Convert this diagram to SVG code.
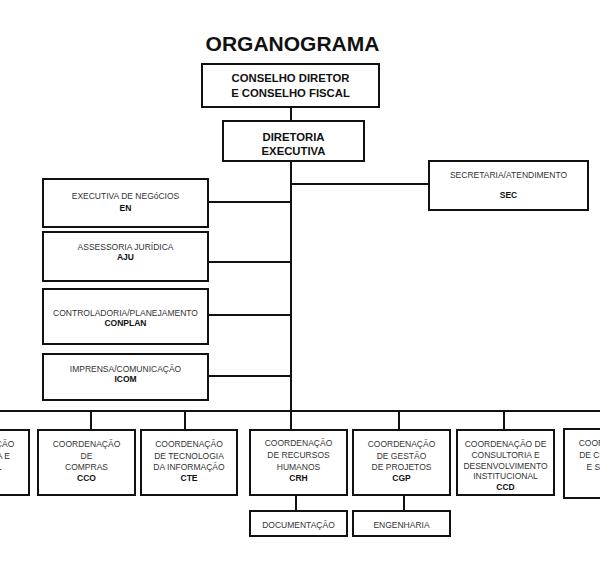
<svg xmlns="http://www.w3.org/2000/svg" width="600" height="566" viewBox="0 0 600 566">
<style>
.box{fill:#fff;stroke:#111;stroke-width:2}
.ln{stroke:#111;stroke-width:2;fill:none}
text{font-family:"Liberation Sans",Arial,sans-serif;text-anchor:middle}
.t{font-size:8.5px;fill:#333}
.b{font-size:8.5px;font-weight:bold;fill:#111}
.h{font-size:11.3px;font-weight:bold;fill:#111}
.title{font-size:21px;font-weight:bold;fill:#111}
</style>
<rect width="600" height="566" fill="#fff"/>
<text class="title" x="292.5" y="51">ORGANOGRAMA</text>
<g id="connectors">
<line class="ln" x1="291" y1="107" x2="291" y2="121"/>
<line class="ln" x1="291" y1="161" x2="291" y2="430"/>
<line class="ln" x1="291" y1="184" x2="429" y2="184"/>
<line class="ln" x1="208" y1="202" x2="291" y2="202"/>
<line class="ln" x1="208" y1="262" x2="291" y2="262"/>
<line class="ln" x1="208" y1="315" x2="291" y2="315"/>
<line class="ln" x1="208" y1="376" x2="291" y2="376"/>
<line class="ln" x1="0" y1="411" x2="600" y2="411"/>
<line class="ln" x1="91" y1="411" x2="91" y2="430"/>
<line class="ln" x1="185" y1="411" x2="185" y2="430"/>
<line class="ln" x1="399" y1="411" x2="399" y2="430"/>
<line class="ln" x1="504" y1="411" x2="504" y2="430"/>
<line class="ln" x1="296" y1="495" x2="296" y2="511"/>
<line class="ln" x1="404" y1="495" x2="404" y2="511"/>
</g>
<g id="conselho">
<rect class="box" x="202" y="64" width="177" height="43"/>
<text class="h" x="290.5" y="82">CONSELHO DIRETOR</text>
<text class="h" x="290.5" y="97">E CONSELHO FISCAL</text>
</g>
<g id="diretoria">
<rect class="box" x="223" y="121" width="141" height="40"/>
<text class="h" x="293.5" y="141">DIRETORIA</text>
<text class="h" x="293.5" y="155">EXECUTIVA</text>
</g>
<g id="sec">
<rect class="box" x="429" y="161" width="159" height="49"/>
<text class="t" x="508.5" y="178">SECRETARIA/ATENDIMENTO</text>
<text class="b" x="508.5" y="198">SEC</text>
</g>
<g id="en">
<rect class="box" x="43" y="179" width="165" height="48"/>
<text class="t" x="125.5" y="199">EXECUTIVA DE NEGóCIOS</text>
<text class="b" x="125.5" y="211">EN</text>
</g>
<g id="aju">
<rect class="box" x="43" y="232" width="165" height="49"/>
<text class="t" x="125.5" y="250">ASSESSORIA JURÍDICA</text>
<text class="b" x="125.5" y="260">AJU</text>
</g>
<g id="conplan">
<rect class="box" x="43" y="289" width="165" height="55"/>
<text class="t" x="125.5" y="316">CONTROLADORIA/PLANEJAMENTO</text>
<text class="b" x="125.5" y="326">CONPLAN</text>
</g>
<g id="icom">
<rect class="box" x="43" y="354" width="165" height="46"/>
<text class="t" x="125.5" y="372">IMPRENSA/COMUNICAÇÃO</text>
<text class="b" x="125.5" y="382">ICOM</text>
</g>
<g id="cfc">
<rect class="box" x="-68" y="430" width="97" height="65"/>
<text class="t" x="-19.5" y="447">COORDENAÇÃO</text>
<text class="t" x="-19.5" y="459">FINANCEIRA E</text>
<text class="t" x="-19.5" y="470">CONTÁBIL</text>
</g>
<g id="cco">
<rect class="box" x="38" y="430" width="97" height="65"/>
<text class="t" x="86.5" y="447">COORDENAÇÃO</text>
<text class="t" x="86.5" y="459">DE</text>
<text class="t" x="86.5" y="470">COMPRAS</text>
<text class="b" x="86.5" y="481">CCO</text>
</g>
<g id="cte">
<rect class="box" x="141" y="430" width="96" height="65"/>
<text class="t" x="189" y="447">COORDENAÇÃO</text>
<text class="t" x="189" y="459">DE TECNOLOGIA</text>
<text class="t" x="189" y="470">DA INFORMAÇÃO</text>
<text class="b" x="189" y="481">CTE</text>
</g>
<g id="crh">
<rect class="box" x="250" y="430" width="97" height="65"/>
<text class="t" x="298.5" y="446">COORDENAÇÃO</text>
<text class="t" x="298.5" y="458">DE RECURSOS</text>
<text class="t" x="298.5" y="470">HUMANOS</text>
<text class="b" x="298.5" y="481">CRH</text>
</g>
<g id="cgp">
<rect class="box" x="353" y="430" width="97" height="65"/>
<text class="t" x="401.5" y="447">COORDENAÇÃO</text>
<text class="t" x="401.5" y="459">DE GESTÃO</text>
<text class="t" x="401.5" y="470">DE PROJETOS</text>
<text class="b" x="401.5" y="481">CGP</text>
</g>
<g id="ccd">
<rect class="box" x="457" y="430" width="97" height="65"/>
<text class="t" x="505.5" y="447">COORDENAÇÃO DE</text>
<text class="t" x="505.5" y="458">CONSULTORIA E</text>
<text class="t" x="505.5" y="468.5">DESENVOLVIMENTO</text>
<text class="t" x="505.5" y="479">INSTITUCIONAL</text>
<text class="b" x="505.5" y="490">CCD</text>
</g>
<g id="ccs">
<rect class="box" x="564" y="429" width="97" height="69"/>
<text class="t" x="612.5" y="446">COORDENAÇÃO</text>
<text class="t" x="612.5" y="458">DE CONTRATOS</text>
<text class="t" x="612.5" y="470">E SERVIÇOS</text>
</g>
<g id="doc">
<rect class="box" x="250" y="511" width="97" height="25"/>
<text class="t" x="298.5" y="528">DOCUMENTAÇÃO</text>
</g>
<g id="eng">
<rect class="box" x="353" y="511" width="97" height="25"/>
<text class="t" x="401.5" y="528">ENGENHARIA</text>
</g>
</svg>
